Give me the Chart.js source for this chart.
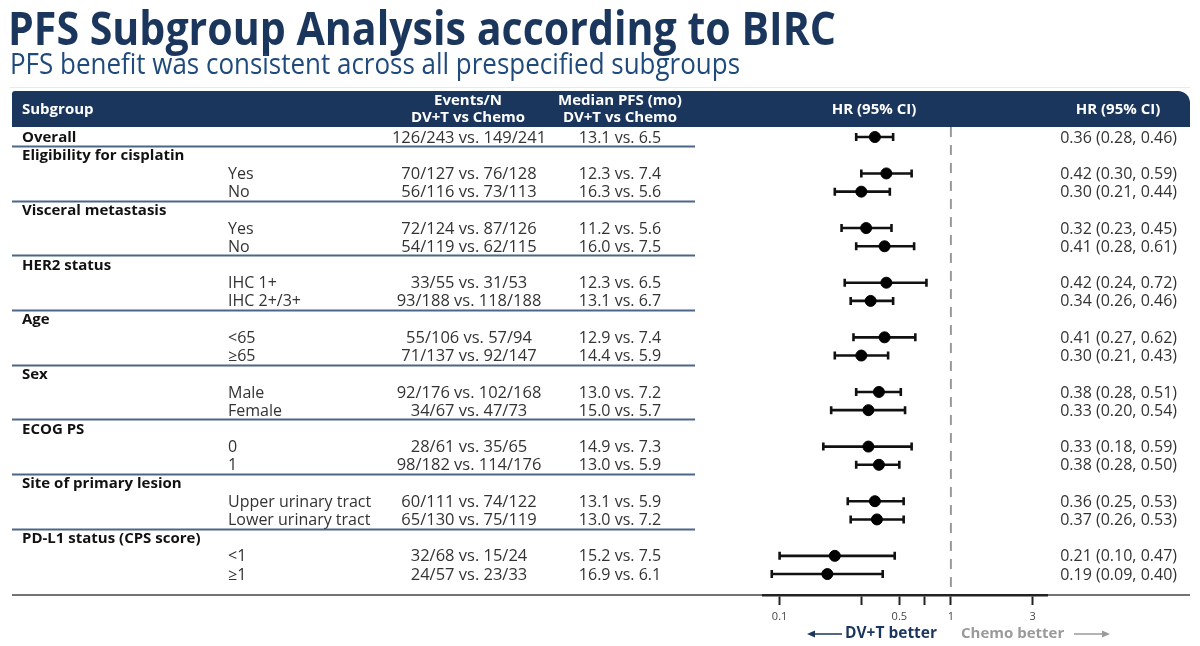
<!DOCTYPE html>
<html>
<head>
<meta charset="utf-8">
<script src="https://cdn.jsdelivr.net/npm/chart.js@4"></script>
<style>
  body { margin: 0; background: #fff; }
  #chart { display: block; }
</style>
</head>
<body>
<canvas id="chart" width="1200" height="646"></canvas>
<script>
// Datos de la tabla
var rowLabels = ['Overall', 'Eligibility for cisplatin', 'Yes', 'No', 'Visceral metastasis', 'Yes', 'No',
  'HER2 status', 'IHC 1+', 'IHC 2+/3+', 'Age', '<65', '≥65', 'Sex', 'Male', 'Female',
  'ECOG PS', '0', '1', 'Site of primary lesion', 'Upper urinary tract', 'Lower urinary tract',
  'PD-L1 status (CPS score)', '<1', '≥1'];
var rowIsGroup = [1, 1, 0, 0, 1, 0, 0, 1, 0, 0, 1, 0, 0, 1, 0, 0, 1, 0, 0, 1, 0, 0, 1, 0, 0];
var events = ['126/243 vs. 149/241', '', '70/127 vs. 76/128', '56/116 vs. 73/113', '', '72/124 vs. 87/126', '54/119 vs. 62/115',
  '', '33/55 vs. 31/53', '93/188 vs. 118/188', '', '55/106 vs. 57/94', '71/137 vs. 92/147', '', '92/176 vs. 102/168', '34/67 vs. 47/73',
  '', '28/61 vs. 35/65', '98/182 vs. 114/176', '', '60/111 vs. 74/122', '65/130 vs. 75/119', '', '32/68 vs. 15/24', '24/57 vs. 23/33'];
var medianPFS = ['13.1 vs. 6.5', '', '12.3 vs. 7.4', '16.3 vs. 5.6', '', '11.2 vs. 5.6', '16.0 vs. 7.5',
  '', '12.3 vs. 6.5', '13.1 vs. 6.7', '', '12.9 vs. 7.4', '14.4 vs. 5.9', '', '13.0 vs. 7.2', '15.0 vs. 5.7',
  '', '14.9 vs. 7.3', '13.0 vs. 5.9', '', '13.1 vs. 5.9', '13.0 vs. 7.2', '', '15.2 vs. 7.5', '16.9 vs. 6.1'];
var hr =     [0.36, null, 0.42, 0.30, null, 0.32, 0.41, null, 0.42, 0.34, null, 0.41, 0.30, null, 0.38, 0.33, null, 0.33, 0.38, null, 0.36, 0.37, null, 0.21, 0.19];
var ciLow =  [0.28, null, 0.30, 0.21, null, 0.23, 0.28, null, 0.24, 0.26, null, 0.27, 0.21, null, 0.28, 0.20, null, 0.18, 0.28, null, 0.25, 0.26, null, 0.10, 0.09];
var ciHigh = [0.46, null, 0.59, 0.44, null, 0.45, 0.61, null, 0.72, 0.46, null, 0.62, 0.43, null, 0.51, 0.54, null, 0.59, 0.50, null, 0.53, 0.53, null, 0.47, 0.40];
var separatorAfter = [0, 3, 6, 9, 12, 15, 18, 21];
var xTicks = [0.1, 0.3, 0.5, 0.7, 1, 3];
var xTickLabels = ['0.1', '', '0.5', '', '1', '3'];

var FONT = "'Open Sans', 'Noto Sans', sans-serif";
var NAVY = '#1b365d';

function txt(ctx, s, x, y, font, color, align, base, sx) {
  ctx.save();
  ctx.font = font;
  ctx.fillStyle = color;
  ctx.textAlign = align || 'left';
  ctx.textBaseline = base || 'middle';
  ctx.translate(x, y);
  ctx.scale(sx || 1, 1);
  ctx.fillText(s, 0, 0);
  ctx.restore();
}

function fitTxt(ctx, s, x, y, font, color, width) {
  ctx.save();
  ctx.font = font;
  var w = ctx.measureText(s).width;
  ctx.restore();
  txt(ctx, s, x, y, font, color, 'left', 'alphabetic', width / w);
}

function fmtHR(i) {
  return hr[i].toFixed(2) + ' (' + ciLow[i].toFixed(2) + ', ' + ciHigh[i].toFixed(2) + ')';
}

// Tabla, titulo y encabezado
var tablePlugin = {
  id: 'tabla',
  beforeDraw: function(chart) {
    var ctx = chart.ctx;
    var ys = chart.scales.y;
    ctx.save();
    ctx.fillStyle = '#fff';
    ctx.fillRect(0, 0, chart.width, chart.height);

    fitTxt(ctx, 'PFS Subgroup Analysis according to BIRC', 8, 45, 'bold 46px ' + FONT, NAVY, 828);
    fitTxt(ctx, 'PFS benefit was consistent across all prespecified subgroups', 10, 74, '29px ' + FONT, '#1f4a7c', 730);

    ctx.strokeStyle = '#e2ebf4';
    ctx.lineWidth = 1;
    ctx.beginPath(); ctx.moveTo(10, 87.5); ctx.lineTo(1190, 87.5); ctx.stroke();

    // banda del encabezado
    ctx.fillStyle = NAVY;
    ctx.beginPath();
    ctx.roundRect(12, 91, 1178, 36, [3, 12, 0, 0]);
    ctx.fill();
    var hf = 'bold 15px ' + FONT;
    txt(ctx, 'Subgroup', 22, 110, hf, '#fff', 'left');
    txt(ctx, 'Events/N', 468, 101, hf, '#fff', 'center');
    txt(ctx, 'DV+T vs Chemo', 468, 118, hf, '#fff', 'center');
    txt(ctx, 'Median PFS (mo)', 620, 101, hf, '#fff', 'center');
    txt(ctx, 'DV+T vs Chemo', 620, 118, hf, '#fff', 'center');
    txt(ctx, 'HR (95% CI)', 874, 110, hf, '#fff', 'center');
    txt(ctx, 'HR (95% CI)', 1118, 110, hf, '#fff', 'center');

    // filas
    for (var i = 0; i < rowLabels.length; i++) {
      var y = ys.getPixelForValue(i) + 1;
      if (rowIsGroup[i]) {
        txt(ctx, rowLabels[i], 22, y, 'bold 15px ' + FONT, '#111', 'left');
      } else {
        txt(ctx, rowLabels[i], 228, y, '16px ' + FONT, '#333', 'left');
      }
      if (events[i]) txt(ctx, events[i], 469, y, '16px ' + FONT, '#333', 'center', 'middle', 1.03);
      if (medianPFS[i]) txt(ctx, medianPFS[i], 620, y, '16px ' + FONT, '#333', 'center');
      if (hr[i] != null) txt(ctx, fmtHR(i), 1177, y, '16px ' + FONT, '#333', 'right');
    }

    // separadores
    ctx.strokeStyle = '#4a6688';
    ctx.lineWidth = 1.8;
    separatorAfter.forEach(function(r) {
      var y = Math.round(ys.getPixelForValue(r + 0.5)) + 0.5;
      ctx.beginPath(); ctx.moveTo(12, y); ctx.lineTo(695, y); ctx.stroke();
    });

    // linea inferior completa
    var yb = chart.chartArea.bottom;
    ctx.strokeStyle = '#444';
    ctx.lineWidth = 1.5;
    ctx.beginPath(); ctx.moveTo(12, yb); ctx.lineTo(1190, yb); ctx.stroke();

    // flechas y leyenda inferior
    var bf = 'bold 15.5px ' + FONT;
    txt(ctx, 'DV+T better', 845, 634, bf, NAVY, 'left');
    txt(ctx, 'Chemo better', 961, 634, 'bold 15px ' + FONT, '#9a9a9a', 'left');
    ctx.lineWidth = 1.5;
    ctx.strokeStyle = NAVY; ctx.fillStyle = NAVY;
    ctx.beginPath(); ctx.moveTo(813, 634); ctx.lineTo(842, 634); ctx.stroke();
    ctx.beginPath(); ctx.moveTo(807, 634); ctx.lineTo(815, 630.5); ctx.lineTo(815, 637.5); ctx.closePath(); ctx.fill();
    ctx.strokeStyle = '#9a9a9a'; ctx.fillStyle = '#9a9a9a';
    ctx.beginPath(); ctx.moveTo(1074, 634); ctx.lineTo(1103, 634); ctx.stroke();
    ctx.beginPath(); ctx.moveTo(1110, 634); ctx.lineTo(1102, 630.5); ctx.lineTo(1102, 637.5); ctx.closePath(); ctx.fill();
    ctx.restore();
  },
  beforeDatasetsDraw: function(chart) {
    // barras de intervalo de confianza
    var ctx = chart.ctx;
    var xs = chart.scales.x, ys = chart.scales.y;
    ctx.save();
    ctx.strokeStyle = '#111';
    ctx.lineWidth = 2.6;
    for (var i = 0; i < hr.length; i++) {
      if (hr[i] == null) continue;
      var y = ys.getPixelForValue(i);
      var x1 = xs.getPixelForValue(ciLow[i]);
      var x2 = xs.getPixelForValue(ciHigh[i]);
      ctx.beginPath();
      ctx.moveTo(x1, y); ctx.lineTo(x2, y);
      ctx.moveTo(x1, y - 4); ctx.lineTo(x1, y + 4);
      ctx.moveTo(x2, y - 4); ctx.lineTo(x2, y + 4);
      ctx.stroke();
    }
    ctx.restore();
  }
};

var points = [];
for (var i = 0; i < hr.length; i++) {
  if (hr[i] != null) points.push({ x: hr[i], y: i });
}

var yMin = -0.55, yMax = 25.15;

var forestChart = new Chart(document.getElementById('chart'), {
  type: 'scatter',
  data: {
    datasets: [{
      label: 'HR',
      data: points,
      pointRadius: 5.5,
      pointHoverRadius: 5.5,
      backgroundColor: '#000',
      borderColor: '#000',
      order: 1
    }, {
      type: 'line',
      label: 'ref',
      data: [{ x: 1, y: yMin }, { x: 1, y: yMax }],
      borderColor: '#9a9a9a',
      borderWidth: 2,
      borderDash: [10, 8],
      pointRadius: 0,
      order: 2
    }]
  },
  options: {
    responsive: false,
    animation: false,
    layout: { padding: { left: 763, right: 153, top: 127, bottom: 0 } },
    plugins: { legend: { display: false }, tooltip: { enabled: false } },
    scales: {
      x: {
        type: 'logarithmic',
        min: 0.08,
        max: 3.64,
        afterBuildTicks: function(s) { s.ticks = xTicks.map(function(v) { return { value: v }; }); },
        afterFit: function(s) { s.height = 51; },
        ticks: {
          callback: function(v, i) { return xTickLabels[i]; },
          autoSkip: false,
          maxRotation: 0,
          color: '#444',
          font: { size: 11, family: FONT },
          padding: 5
        },
        grid: { drawOnChartArea: false, tickLength: 10, tickWidth: 2, color: '#222' },
        border: { color: '#222', width: 2.5 }
      },
      y: { type: 'linear', reverse: true, min: yMin, max: yMax, display: false }
    }
  },
  plugins: [tablePlugin]
});
</script>
</body>
</html>
